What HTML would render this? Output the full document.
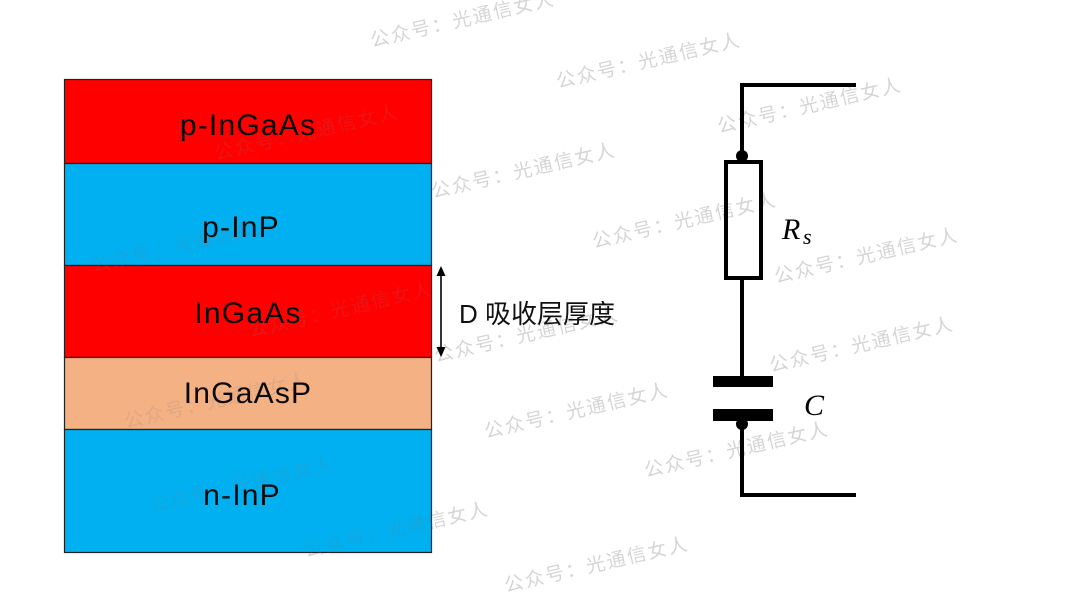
<!DOCTYPE html>
<html>
<head>
<meta charset="utf-8">
<style>
html,body{margin:0;padding:0;background:#fff;}
body{width:1080px;height:607px;overflow:hidden;}
svg{display:block;}
.lbl{font-family:"Liberation Sans","Noto Sans CJK SC",sans-serif;font-size:30px;fill:#0a0a0a;letter-spacing:1.2px;}
.wm{font-family:"Noto Sans CJK SC","WenQuanYi Zen Hei",sans-serif;font-size:19px;letter-spacing:2px;}
.math{font-family:"Liberation Serif","DejaVu Serif",serif;font-style:italic;fill:#000;}
</style>
</head>
<body>
<svg width="1080" height="607" viewBox="0 0 1080 607" xmlns="http://www.w3.org/2000/svg">
  <defs>
    <clipPath id="inStack"><rect x="64" y="79" width="368" height="474"/></clipPath>
    <mask id="outStack">
      <rect x="0" y="0" width="1080" height="607" fill="#fff"/>
      <rect x="64" y="79" width="368" height="474" fill="#000"/>
    </mask>
    <g id="wms">
      <text transform="translate(372,47) rotate(-13)">公众号：光通信女人</text>
      <text transform="translate(558,88) rotate(-13)">公众号：光通信女人</text>
      <text transform="translate(719,133) rotate(-13)">公众号：光通信女人</text>
      <text transform="translate(216,160) rotate(-13)">公众号：光通信女人</text>
      <text transform="translate(433,198) rotate(-13)">公众号：光通信女人</text>
      <text transform="translate(93,272) rotate(-13)">公众号：光通信女人</text>
      <text transform="translate(594,248) rotate(-13)">公众号：光通信女人</text>
      <text transform="translate(776,283) rotate(-13)">公众号：光通信女人</text>
      <text transform="translate(250,337) rotate(-13)">公众号：光通信女人</text>
      <text transform="translate(436,362) rotate(-13)">公众号：光通信女人</text>
      <text transform="translate(771,372) rotate(-13)">公众号：光通信女人</text>
      <text transform="translate(126,428) rotate(-13)">公众号：光通信女人</text>
      <text transform="translate(486,438) rotate(-13)">公众号：光通信女人</text>
      <text transform="translate(646,477) rotate(-13)">公众号：光通信女人</text>
      <text transform="translate(151,512) rotate(-13)">公众号：光通信女人</text>
      <text transform="translate(306,557) rotate(-13)">公众号：光通信女人</text>
      <text transform="translate(506,592) rotate(-13)">公众号：光通信女人</text>
    </g>
  </defs>
  <rect x="0" y="0" width="1080" height="607" fill="#fff"/>

  <!-- layer stack -->
  <g stroke="#222" stroke-width="1.2">
    <rect x="64.5" y="79.5" width="367" height="84" fill="#FF0000"/>
    <rect x="64.5" y="163.5" width="367" height="102" fill="#00B0F0"/>
    <rect x="64.5" y="265.5" width="367" height="92" fill="#FF0000"/>
    <rect x="64.5" y="357.5" width="367" height="72" fill="#F4B183"/>
    <rect x="64.5" y="429.5" width="367" height="123" fill="#00B0F0"/>
  </g>

  <!-- watermarks: faint over the coloured stack, light grey elsewhere -->
  <g class="wm" clip-path="url(#inStack)" fill="#7a7a7a" fill-opacity="0.16">
    <use href="#wms"/>
  </g>
  <g class="wm" mask="url(#outStack)" fill="#9a9a9a" fill-opacity="0.42">
    <use href="#wms"/>
  </g>

  <text class="lbl" x="248" y="135" text-anchor="middle">p-InGaAs</text>
  <text class="lbl" x="241" y="237" text-anchor="middle">p-InP</text>
  <text class="lbl" x="248" y="323" text-anchor="middle">InGaAs</text>
  <text class="lbl" x="248" y="403" text-anchor="middle">InGaAsP</text>
  <text class="lbl" x="242" y="505" text-anchor="middle">n-InP</text>

  <!-- thickness arrow -->
  <line x1="441" y1="274" x2="441" y2="350" stroke="#000" stroke-width="1.6"/>
  <polygon points="441,266 436.5,276 445.5,276" fill="#000"/>
  <polygon points="441,357 436.5,347 445.5,347" fill="#000"/>
  <text x="459" y="323" style="font-family:'Liberation Sans','Noto Sans CJK SC',sans-serif;font-size:26px;fill:#111;">D 吸收层厚度</text>

  <!-- circuit -->
  <g stroke="#000" stroke-width="4" fill="none" stroke-linecap="butt">
    <polyline points="856,85 742,85 742,160"/>
    <rect x="726" y="162" width="35" height="116"/>
    <line x1="742" y1="280" x2="742" y2="376"/>
    <polyline points="742,422 742,495 856,495"/>
  </g>
  <circle cx="742" cy="156" r="6" fill="#000"/>
  <rect x="713" y="376" width="60" height="11" fill="#000"/>
  <rect x="713" y="409" width="60" height="12" fill="#000"/>
  <circle cx="742" cy="424" r="6" fill="#000"/>

  <text class="math" x="782" y="239" font-size="30">R</text>
  <text class="math" x="803" y="244" font-size="22">s</text>
  <text class="math" x="804" y="415" font-size="30">C</text>
</svg>
</body>
</html>
